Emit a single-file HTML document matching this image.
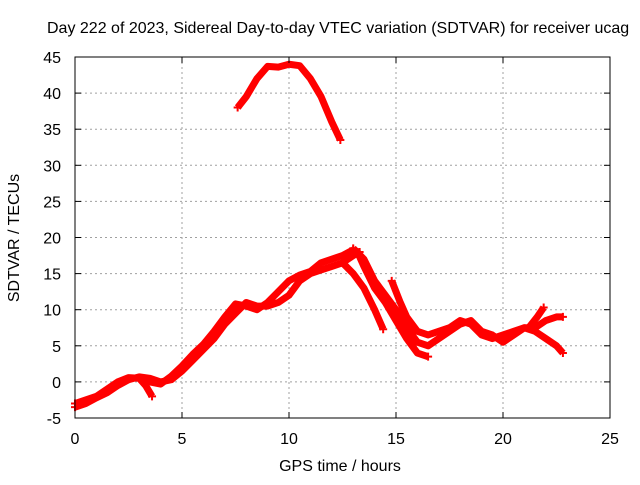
<!DOCTYPE html>
<html><head><meta charset="utf-8"><style>
body{margin:0;background:#fff}
text{font-family:"Liberation Sans",sans-serif;font-size:16px;fill:#000}
</style></head><body>
<svg id="chart" width="640" height="480">
<rect width="640" height="480" fill="#fff"/>
<g id="grid"></g><g id="series"></g><g id="axes"></g>
<text x="47" y="33">Day 222 of 2023, Sidereal Day-to-day VTEC variation (SDTVAR) for receiver ucag</text>
<text x="340" y="471" text-anchor="middle">GPS time / hours</text>
<text transform="translate(19,238) rotate(-90)" text-anchor="middle">SDTVAR / TECUs</text>
</svg>
<script>
const xTicks=[0,5,10,15,20,25];
const yTicks=[-5,0,5,10,15,20,25,30,35,40,45];
const traceTop=[[7.6,38],[8,39.5],[8.5,42],[9,43.7],[9.5,43.6],[10,44],[10.5,43.8],[11,42],[11.5,39.5],[12,36],[12.4,33.5]];
const traceMain=[[0,-3.5],[0.5,-3],[1,-2.2],[1.5,-1.5],[2,-0.5],[2.5,0.3],[3,0.7],[3.5,0.5],[4,0],[4.5,0.3],[5,1.5],[5.5,3],[6,4.5],[6.5,6],[7,8],[7.5,9.5],[8,11],[8.5,10.5],[9,10.5],[9.5,11],[10,12],[10.5,14],[11,15],[11.5,15.5],[12,16],[12.5,16.5],[13,17.5],[13.3,18]];
const traceMain2=[[0,-3],[0.5,-2.5],[1,-2],[1.5,-1],[2,0],[2.5,0.6],[3,0.5],[3.5,0],[4,-0.3],[4.5,0.8],[5,2.2],[5.5,3.8],[6,5.2],[6.5,7],[7,9],[7.5,10.8],[8,10.5],[8.5,10],[9,11],[9.5,12.5],[10,14],[10.5,14.8],[11,15.3],[11.5,16.5],[12,17],[12.5,17.5],[13,18.3]];
const traceSpur=[[3,0.5],[3.3,-0.5],[3.6,-2]];
const traceC=[[12.5,16.5],[13,15],[13.5,13],[14,10],[14.4,7.3]];
const traceD=[[13.2,18],[13.5,16],[14,13],[14.5,11],[15,8.5],[15.5,6],[16,4],[16.5,3.5]];
const traceE=[[13,18.5],[13.5,17],[14,14],[14.5,12],[15,10],[15.5,7.5],[16,5.5],[16.5,5],[17,6],[17.5,7],[18,8],[18.5,8.5],[19,7],[19.5,6.5],[20,5.5],[20.5,6.5],[21,7.5],[21.5,7.5],[22,8.5],[22.5,9],[22.8,9]];
const traceF=[[14.8,14],[15.2,11],[15.5,9],[16,7],[16.5,6.5],[17,7],[17.5,7.5],[18,8.5],[18.5,8],[19,6.5],[19.5,6],[20,6.5],[20.5,7],[21,7.5],[21.5,7],[22,6],[22.5,5],[22.8,4]];
const traceSpike=[[21.2,7.5],[21.6,9],[21.9,10.3]];
const traces=[traceTop,traceMain,traceMain2,traceSpur,traceC,traceD,traceE,traceF,traceSpike];
const X0=75,X1=610,Y0=418,Y1=57;
const xs=h=>X0+(h-0)/(25-0)*(X1-X0);
const ys=v=>Y0-(v+5)/(45+5)*(Y0-Y1);
const NS="http://www.w3.org/2000/svg";
function mk(t,a,p){const e=document.createElementNS(NS,t);for(const k in a)e.setAttribute(k,a[k]);p.appendChild(e);return e;}
const grid=document.getElementById('grid'),axes=document.getElementById('axes'),ser=document.getElementById('series');
xTicks.forEach(t=>{
 if(t>0&&t<25){const g=mk('line',{x1:xs(t),x2:xs(t),y1:Y1,y2:Y0,stroke:'#a0a0a0','stroke-dasharray':'2,3'},grid);
 
 }
 const l=mk('text',{x:xs(t),y:Y0+26,'text-anchor':'middle'},axes);l.textContent=t;
 
 
 mk('line',{x1:xs(t),x2:xs(t),y1:Y0,y2:Y0-6,stroke:'#000'},axes);
 mk('line',{x1:xs(t),x2:xs(t),y1:Y1,y2:Y1+6,stroke:'#000'},axes);
});
yTicks.forEach(t=>{
 if(t>-5&&t<45){const g=mk('line',{x1:X0,x2:X1,y1:ys(t),y2:ys(t),stroke:'#a0a0a0','stroke-dasharray':'2,3'},grid);
 
 }
 const l=mk('text',{x:X0-14,y:ys(t)+6,'text-anchor':'end'},axes);l.textContent=t;
 
 
 mk('line',{x1:X0,x2:X0+6,y1:ys(t),y2:ys(t),stroke:'#000'},axes);
 mk('line',{x1:X1,x2:X1-6,y1:ys(t),y2:ys(t),stroke:'#000'},axes);
});
const fr=mk('rect',{x:X0,y:Y1,width:X1-X0,height:Y0-Y1,fill:'none',stroke:'#000'},axes);


traces.forEach(tr=>{
 const p=mk('polyline',{points:tr.map(d=>xs(d[0])+','+ys(d[1])).join(' '),fill:'none',stroke:'#f00','stroke-width':7,'stroke-linejoin':'round'},ser);
 
 
 [tr[0],tr[tr.length-1]].forEach(d=>{
  const m=mk('path',{d:`M${xs(d[0])-4},${ys(d[1])}h8M${xs(d[0])},${ys(d[1])-4}v8`,stroke:'#f00','stroke-width':2},ser);
  
  
 });
});
</script>
</body></html>
